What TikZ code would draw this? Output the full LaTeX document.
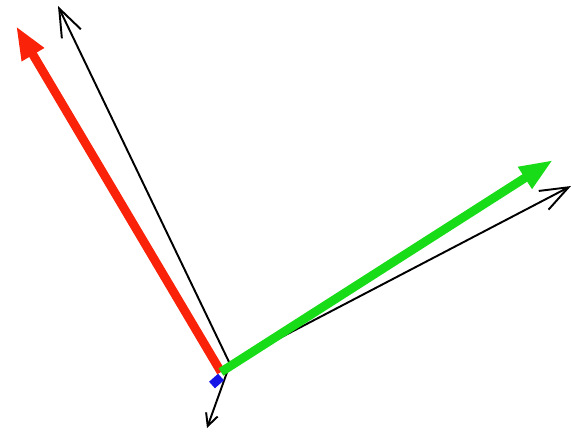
\documentclass[tikz,border=0pt]{standalone}
\usetikzlibrary{arrows.meta}
\definecolor{axred}{RGB}{250,35,10}
\definecolor{axgreen}{RGB}{25,220,25}
\definecolor{axblue}{RGB}{20,20,230}
\tikzset{
  thickaxis/.style={line width=5pt, -{Triangle[length=19pt,width=13.5pt]}},
  thinaxis/.style={line width=1.1pt, -{Straight Barb[length=16pt,width=12pt,line width=1.1pt]}},
  shortaxis/.style={line width=1.1pt, -{Straight Barb[length=7pt,width=7pt,line width=1.1pt]}},
}
\begin{document}
\begin{tikzpicture}[x=0.02cm,y=-0.02cm]
\fill[white] (0,0) rectangle (571,434);
\useasboundingbox (0,0) rectangle (571,434);
\coordinate (o) at (221,372);
\coordinate (b) at (230,364);
\coordinate (redtip) at (16,26);
\coordinate (gtip) at (553,160);
\coordinate (ytip) at (58,6);
\coordinate (xtip) at (571,186);
\coordinate (ztip) at (207,428);
\coordinate (bl1) at (212,385);
\coordinate (bl2) at (221,377);
\draw[thinaxis] (b) -- (ytip);
\draw[thinaxis] (b) -- (xtip);
\draw[shortaxis] (b) -- (ztip);
\draw[axblue, line width=5pt] (bl1) -- (bl2);
\draw[thickaxis, axred] (o) -- (redtip);
\draw[thickaxis, axgreen] (o) -- (gtip);
\end{tikzpicture}
\end{document}
